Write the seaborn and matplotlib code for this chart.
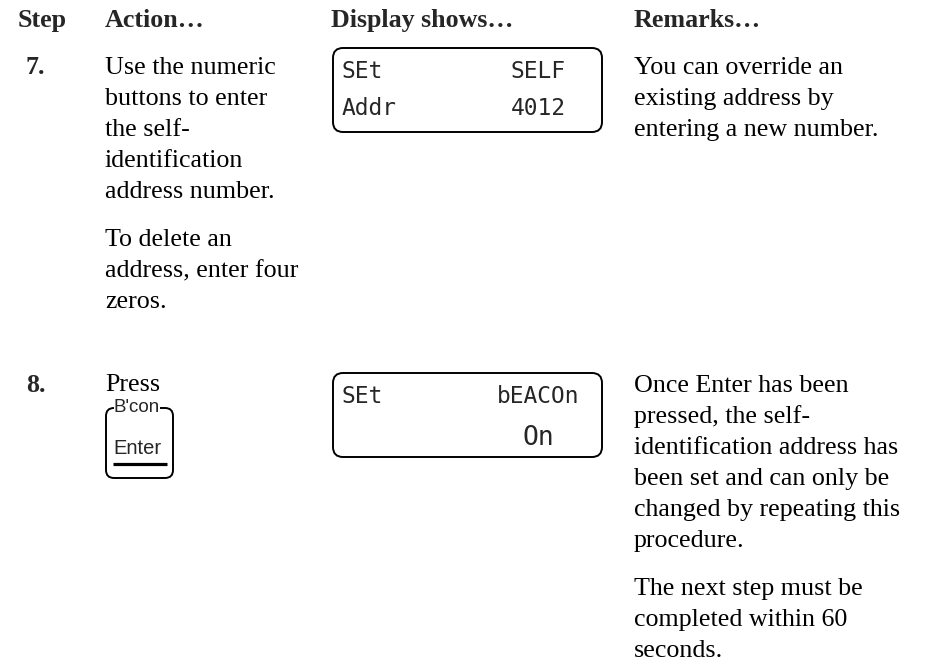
import matplotlib
matplotlib.use("Agg")
import matplotlib.pyplot as plt
import seaborn as sns
from matplotlib.patches import FancyBboxPatch

# Content of the procedure table
headers = ["Step", "Action…", "Display shows…", "Remarks…"]
step_numbers = ["7.", "8."]

action_7 = [["Use the numeric", "buttons to enter", "the self-", "identification", "address number."],
            ["To delete an", "address, enter four", "zeros."]]
action_8 = [["Press"]]

display_7_left = ["SEt", "Addr"]
display_7_right = ["SELF", "4012"]
display_8_left = ["SEt", ""]
display_8_right = ["bEACOn", "On"]

key_top_label = "B'con"
key_label = "Enter"

remarks_7 = [["You can override an", "existing address by", "entering a new number."]]
remarks_8 = [["Once Enter has been", "pressed, the self-", "identification address has",
              "been set and can only be", "changed by repeating this", "procedure."],
             ["The next step must be", "completed within 60", "seconds."]]

sns.set_theme(style="white")
plt.rcParams['font.family'] = ['Liberation Serif', 'DejaVu Serif']

W, H = 928, 668
fig = plt.figure(figsize=(W / 100, H / 100), dpi=100)
ax = fig.add_axes([0, 0, 1, 1])
ax.set_xlim(0, W)
ax.set_ylim(H, 0)
ax.axis('off')

BODY = 18.7
LINE = 31
PARA = 17
COLS = [18, 105, 331, 634]
LCD = 'DejaVu Sans Mono'


def draw_paragraphs(x, y, paragraphs):
    for p in paragraphs:
        for line in p:
            ax.text(x, y, line, fontsize=BODY, va='baseline', ha='left', color='black')
            y += LINE
        y += PARA


def draw_display(top, left_rows, right_rows, big_last=False):
    box = FancyBboxPatch((333, top), 269, 84, boxstyle="round,pad=0,rounding_size=10",
                         fill=False, edgecolor='black', linewidth=1.4)
    ax.add_patch(box)
    rows_y = [top + 30, top + (72 if big_last else 67)]
    for i, (l, r) in enumerate(zip(left_rows, right_rows)):
        size = 19 if (big_last and i == 1) else 16.5
        ax.text(342, rows_y[i], l, fontsize=16.5, family=LCD, va='baseline', ha='left')
        ax.text(538, rows_y[i], r, fontsize=size, family=LCD, va='baseline', ha='center')


# header row
for x, h in zip(COLS, headers):
    ax.text(x, 27, h, fontsize=BODY, fontweight='bold', va='baseline', ha='left')

# step 7
ax.text(26, 74, step_numbers[0], fontsize=BODY, fontweight='bold', va='baseline')
draw_paragraphs(COLS[1], 74, action_7)
draw_display(48, display_7_left, display_7_right)
draw_paragraphs(COLS[3], 74, remarks_7)

# step 8
ax.text(26, 392, step_numbers[1], fontsize=BODY, fontweight='bold', va='baseline')
draw_paragraphs(COLS[1], 391, action_8)
draw_display(373, display_8_left, display_8_right, big_last=True)
draw_paragraphs(COLS[3], 392, remarks_8)

# Enter key drawing
key = FancyBboxPatch((106, 408), 67, 70, boxstyle="round,pad=0,rounding_size=8",
                     fill=False, edgecolor='black', linewidth=1.4)
ax.add_patch(key)
ax.text(137, 408, key_top_label, fontsize=13.5, family='Liberation Sans', ha='center', va='center',
        bbox=dict(boxstyle='square,pad=0', facecolor='white', edgecolor='none'))
ax.text(137, 449, key_label, fontsize=14.5, family='Liberation Sans', ha='center', va='center')
ax.plot([113, 167], [464, 464], color='black', linewidth=2.3, solid_capstyle='butt')

fig.savefig("out.png", dpi=100, facecolor='white')
